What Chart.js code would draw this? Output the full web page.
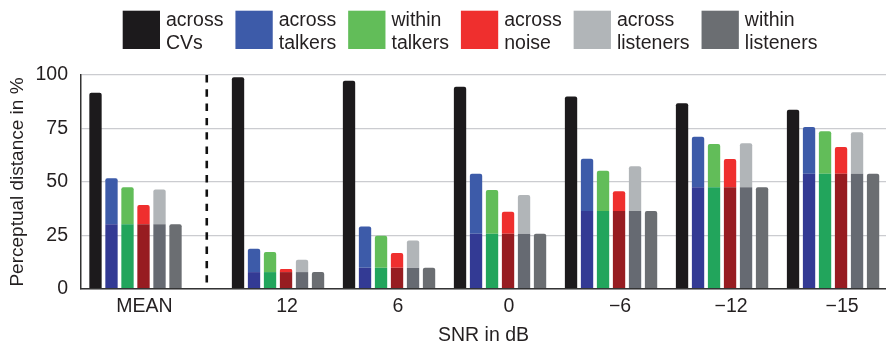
<!DOCTYPE html>
<html>
<head>
<meta charset="utf-8">
<script src="https://cdn.jsdelivr.net/npm/chart.js@4/dist/chart.umd.min.js"></script>
<style>
  html, body { margin: 0; padding: 0; background: #ffffff; }
  #wrap { width: 886px; height: 344px; position: relative; }
</style>
</head>
<body>
<div id="wrap"><canvas id="chart"></canvas></div>
<script>
// SNR conditions (MEAN is set apart from the individual SNR levels)
const categories = ['MEAN', '12', '6', '0', '\u22126', '\u221212', '\u221215'];

// Perceptual distance in % for each comparison
const acrossCVs       = [91.7, 98.9, 97.3, 94.5, 89.9, 86.8, 83.8];
const acrossTalkers   = [51.8, 18.8, 29.2, 53.9, 60.9, 71.1, 75.7];
const withinTalkers   = [47.6, 17.3, 24.9, 46.3, 55.3, 67.7, 73.7];
const acrossNoise     = [39.2,  9.3, 16.8, 36.1, 45.7, 60.8, 66.4];
const acrossListeners = [46.5, 13.7, 22.7, 43.9, 57.4, 68.1, 73.3];
const withinListeners = [30.3,  7.9,  9.9, 25.8, 36.5, 47.6, 53.8];

const yTickValues = [0, 25, 50, 75, 100];

const seriesNames = [
  ['across', 'CVs'],
  ['across', 'talkers'],
  ['within', 'talkers'],
  ['across', 'noise'],
  ['across', 'listeners'],
  ['within', 'listeners']
];

// Colours: upper (full) colour and lower (within-listeners floor) colour
const upperColors = ['#1c1a1c', '#3d5ba9', '#62bd59', '#ef2f2e', '#b1b5b8', '#6b6e72'];
const lowerColors = ['#1c1a1c', '#333a94', '#22a55c', '#971c21', '#666a72', '#6b6e72'];

// Position of each condition on the x axis; MEAN sits further left, past a separator
const MEAN_GAP = 0.284;
const slots = categories.map((c, i) => (i === 0 ? -MEAN_GAP : i));

const FONT = '"Liberation Sans", Arial, Helvetica, sans-serif';
const TEXT = '#231f20';

function floorBars(values) {
  return values.map((v, i) => ({ x: slots[i], y: [0, v] }));
}
function upperBars(values) {
  return values.map((v, i) => ({ x: slots[i], y: [withinListeners[i], v] }));
}

const series = [acrossCVs, acrossTalkers, withinTalkers, acrossNoise, acrossListeners, withinListeners];
const datasets = [];
const barStyle = { categoryPercentage: 0.865, barPercentage: 0.77, borderSkipped: 'start' };

// across CVs: one solid bar
datasets.push(Object.assign({
  label: seriesNames[0].join(' '), stack: 's0', data: floorBars(acrossCVs),
  backgroundColor: upperColors[0], borderRadius: 2
}, barStyle));

// the four comparisons that rise above the within-listeners floor
for (let s = 1; s <= 4; s++) {
  datasets.push(Object.assign({
    label: seriesNames[s].join(' ') + ' (floor)', stack: 's' + s, data: floorBars(withinListeners),
    backgroundColor: lowerColors[s], borderRadius: 0
  }, barStyle));
  datasets.push(Object.assign({
    label: seriesNames[s].join(' '), stack: 's' + s, data: upperBars(series[s]),
    backgroundColor: upperColors[s], borderRadius: 2
  }, barStyle));
}

// within listeners
datasets.push(Object.assign({
  label: seriesNames[5].join(' '), stack: 's5', data: floorBars(withinListeners),
  backgroundColor: upperColors[5], borderRadius: 2
}, barStyle));

// Two-line legend drawn above the plot
const legendPlugin = {
  id: 'twoLineLegend',
  afterDraw(chart) {
    const ctx = chart.ctx;
    ctx.save();
    ctx.font = '19.5px ' + FONT;
    ctx.textBaseline = 'alphabetic';
    ctx.textAlign = 'left';
    const boxW = 37.3, boxH = 38.3, boxTop = 10.7, gapText = 6, gapItem = 12;
    let x = 122.7;
    seriesNames.forEach((lines, i) => {
      ctx.fillStyle = upperColors[i];
      ctx.fillRect(x, boxTop, boxW, boxH);
      ctx.fillStyle = TEXT;
      const tx = x + boxW + gapText;
      ctx.fillText(lines[0], tx, 26);
      ctx.fillText(lines[1], tx, 49.3);
      const w = Math.max(ctx.measureText(lines[0]).width, ctx.measureText(lines[1]).width);
      x = tx + w + gapItem;
    });
    ctx.restore();
  }
};

// Dashed divider between the MEAN group and the SNR groups
const dividerPlugin = {
  id: 'divider',
  afterDatasetsDraw(chart) {
    const { ctx, chartArea, scales } = chart;
    const px = scales.x.getPixelForValue((slots[0] + slots[1]) / 2);
    ctx.save();
    ctx.strokeStyle = '#111111';
    ctx.lineWidth = 2.6;
    ctx.setLineDash([7.4, 6.9]);
    ctx.beginPath();
    ctx.moveTo(px, chartArea.top);
    ctx.lineTo(px, chartArea.bottom);
    ctx.stroke();
    ctx.restore();
  }
};

new Chart(document.getElementById('chart'), {
  type: 'bar',
  data: { datasets },
  options: {
    responsive: true,
    maintainAspectRatio: false,
    animation: false,
    layout: { padding: { top: 75, left: 0, right: 0, bottom: 0 } },
    plugins: {
      legend: { display: false },
      tooltip: { enabled: false }
    },
    scales: {
      x: {
        type: 'linear',
        min: -0.775,
        max: 6.477,
        offset: false,
        grid: { display: false, drawTicks: false, offset: false },
        border: { display: true, color: '#333333', width: 1.5, z: 1 },
        afterBuildTicks(scale) { scale.ticks = slots.map(v => ({ value: v })); },
        afterFit(scale) { scale.height = 55; },
        ticks: {
          autoSkip: false,
          maxRotation: 0,
          padding: 6,
          labelOffset: 9,
          color: TEXT,
          font: { family: FONT, size: 19.5 },
          callback: (value, index) => categories[index]
        },
        title: {
          display: true,
          text: 'SNR in dB',
          color: TEXT,
          font: { family: FONT, size: 19.5 },
          padding: { top: 0, bottom: -3 }
        }
      },
      y: {
        type: 'linear',
        min: 0,
        max: 100,
        stacked: false,
        grid: { color: '#cbccd0', lineWidth: 1.3, drawTicks: false },
        border: { display: true, color: '#333333', width: 1.5, z: 1 },
        afterBuildTicks(scale) { scale.ticks = yTickValues.map(v => ({ value: v })); },
        afterFit(scale) { scale.width = 81; },
        ticks: {
          padding: 13,
          color: TEXT,
          font: { family: FONT, size: 19.5 }
        },
        title: {
          display: true,
          text: 'Perceptual distance in %',
          color: TEXT,
          font: { family: FONT, size: 19 },
          padding: { top: 6, bottom: 0 }
        }
      }
    }
  },
  plugins: [legendPlugin, dividerPlugin]
});
</script>
</body>
</html>
